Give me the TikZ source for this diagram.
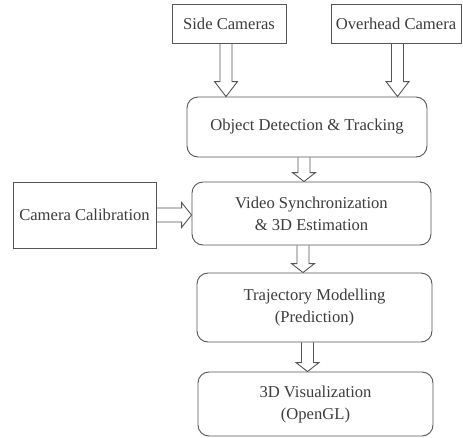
\documentclass[tikz,border=0pt]{standalone}
\usepackage{fontspec}
\setmainfont{Liberation Serif}
\usetikzlibrary{calc}
\definecolor{ink}{RGB}{60,60,60}
\definecolor{edge}{RGB}{85,85,85}
\tikzset{
  every node/.style={font=\fontsize{16.6}{22}\selectfont, text=ink, align=center, inner sep=0pt},
  plainbox/.style={draw=edge, line width=0.9pt},
  roundbox/.style={draw=edge, line width=0.9pt, rounded corners=11pt},
  % hollow block arrow pointing down; #1 = head length
  blockdown/.style={draw=edge, line width=0.9pt, to path={
    let \p1=(\tikztostart), \p2=(\tikztotarget) in
    (\x1-6pt,\y1) -- (\x1-6pt,\y2+#1) -- (\x1-11.5pt,\y2+#1) -- (\x1,\y2)
    -- (\x1+11.5pt,\y2+#1) -- (\x1+6pt,\y2+#1) -- (\x1+6pt,\y1)}},
  blockdown/.default=9pt,
  % hollow block arrow pointing right
  blockright/.style={draw=edge, line width=0.9pt, to path={
    let \p1=(\tikztostart), \p2=(\tikztotarget) in
    (\x1,\y1+7pt) -- (\x2-10pt,\y1+7pt) -- (\x2-10pt,\y1+12.5pt) -- (\x2,\y1)
    -- (\x2-10pt,\y1-12.5pt) -- (\x2-10pt,\y1-7pt) -- (\x1,\y1-7pt)}},
}
\begin{document}
\begin{tikzpicture}[x=1pt,y=-1pt]
\useasboundingbox (0,0) rectangle (463,437);

% input boxes
\node[plainbox, minimum width=114pt, minimum height=39pt] (side) at (229,23.5) {Side Cameras};
\node[plainbox, minimum width=130pt, minimum height=39pt] (over) at (396,23.5) {Overhead Camera};
\node[plainbox, minimum width=143pt, minimum height=66pt] (calib) at (84.5,215) {Camera Calibration};

% processing stages
\node[roundbox, minimum width=240pt, minimum height=60pt] (det) at (307,127) {Object Detection \& Tracking};
\node[roundbox, minimum width=239pt, minimum height=63pt] (sync) at (311.5,213.5) {Video Synchronization\\ \& 3D Estimation};
\node[roundbox, minimum width=235pt, minimum height=69pt] (traj) at (314.5,307.5) {Trajectory Modelling\\(Prediction)};
\node[roundbox, minimum width=235pt, minimum height=64pt] (vis) at (315.5,404) {3D Visualization\\(OpenGL)};

% block arrows between stages
\path ([xshift=-3pt]side.south) edge[blockdown=15pt] (det.north);
\path ([xshift=1.5pt]over.south) edge[blockdown=15pt] (det.north);
\path ([xshift=-3pt]det.south) edge[blockdown] (sync.north);
\path ([xshift=-8.5pt]sync.south) edge[blockdown] (traj.north);
\path ([xshift=-7pt]traj.south) edge[blockdown] (vis.north);
\path (calib.east) edge[blockright] (sync.west);
\end{tikzpicture}
\end{document}
